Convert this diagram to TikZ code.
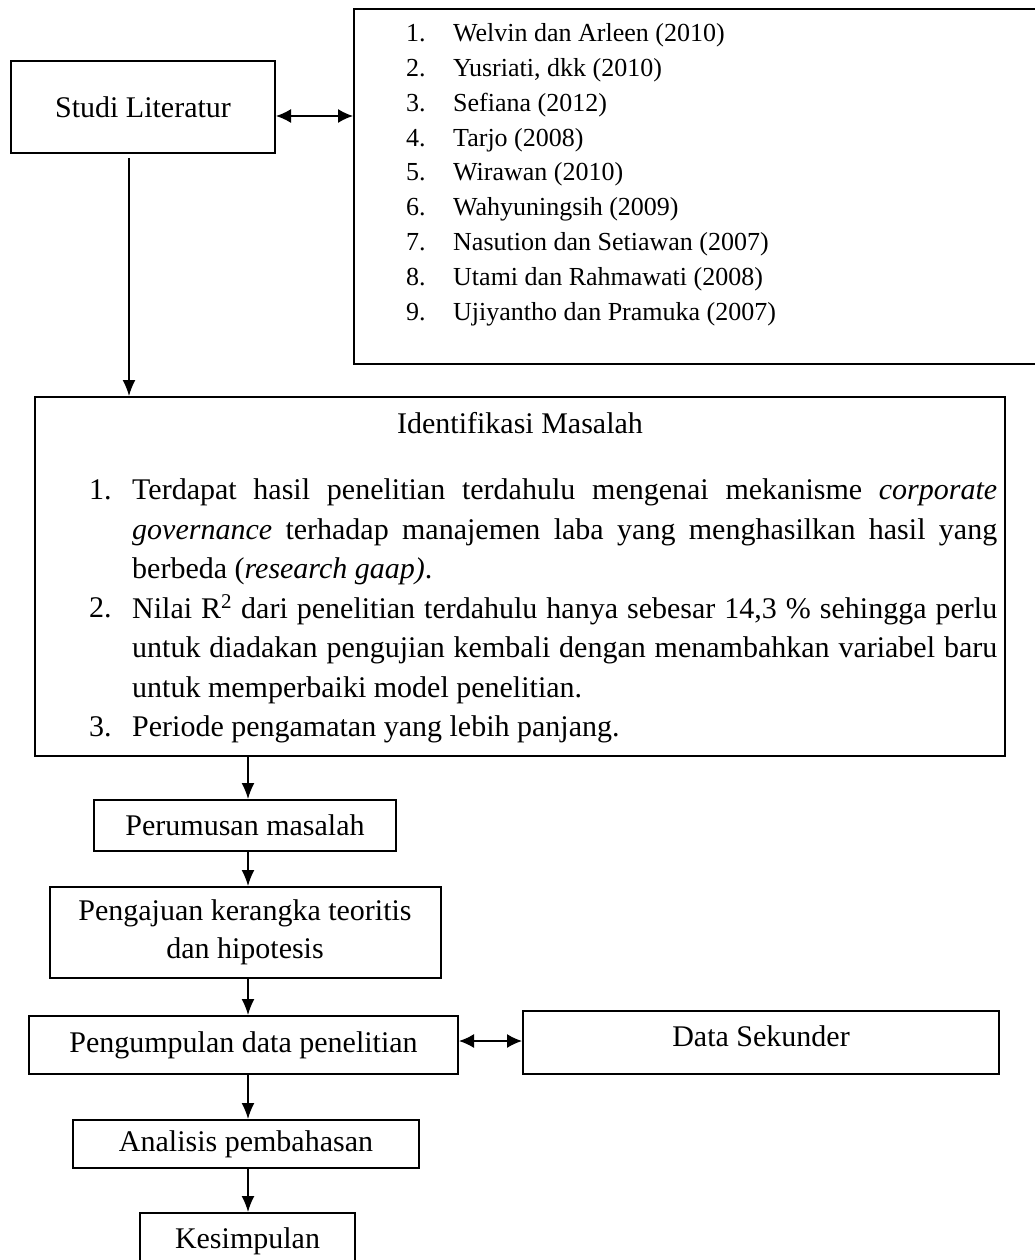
\documentclass[tikz,border=0pt]{standalone}
\usepackage{fontspec}
\setmainfont{Liberation Serif}
\usetikzlibrary{arrows.meta}

\newcommand{\hurufbesar}{\fontsize{30}{39.5}\selectfont}
\newcommand{\hurufkecil}{\fontsize{26}{34.75}\selectfont}

\tikzset{
  kotak/.style={draw, line width=2pt, inner sep=0pt, align=center},
  panah/.style={-{Latex[length=16pt,width=13pt]}, line width=1.5pt},
  panahdua/.style={{Latex[length=15pt,width=14pt]}-{Latex[length=15pt,width=14pt]}, line width=1.5pt},
  isi/.style={anchor=north west, inner sep=0pt, text width=865pt, align=justify},
}

\begin{document}
\begin{tikzpicture}[x=1pt,y=-1pt,every node/.style={font=\hurufbesar}]
    \useasboundingbox (0,0) rectangle (1035,1260);
    % Studi literatur dan daftar rujukan
    \node[kotak, minimum width=264pt, minimum height=92pt] (studi) at (143,107) {Studi Literatur};
    \node[kotak, minimum width=691pt, minimum height=355pt] (daftar) at (699.5,186.5) {};
    \foreach \nama [count=\i] in {{Welvin dan Arleen (2010)}, {Yusriati, dkk (2010)}, {Sefiana (2012)},
        {Tarjo (2008)}, {Wirawan (2010)}, {Wahyuningsih (2009)}, {Nasution dan Setiawan (2007)},
        {Utami dan Rahmawati (2008)}, {Ujiyantho dan Pramuka (2007)}} {
        \node[anchor=base west, inner sep=0pt, font=\hurufkecil] (no\i) at (406,{42+34.75*(\i-1)}) {\i.};
        \node[anchor=base west, inner sep=0pt, font=\hurufkecil] (rujukan\i) at (453,{42+34.75*(\i-1)}) {\nama};
    }
    % Identifikasi masalah
    \node[kotak, minimum width=970pt, minimum height=359pt] (identifikasi) at (520,576.5) {};
    \node[anchor=base, inner sep=0pt] (judul) at (520,433) {Identifikasi Masalah};
    \node[anchor=base west, inner sep=0pt] (nomor1) at (89,499) {1.};
    \node[isi] (masalah1) at (132,478.5) {Terdapat hasil penelitian terdahulu mengenai mekanisme \textit{corporate}\linebreak
        \textit{governance} terhadap manajemen laba yang menghasilkan hasil yang\linebreak
        berbeda (\textit{research gaap)}.};
    \node[anchor=base west, inner sep=0pt] (nomor2) at (89,617.5) {2.};
    \node[isi] (masalah2) at (132,597) {Nilai \smash{R\textsuperscript{2}} dari penelitian terdahulu hanya sebesar 14,3 \% sehingga perlu\linebreak
        untuk diadakan pengujian kembali dengan menambahkan variabel baru\linebreak
        untuk memperbaiki model penelitian.};
    \node[anchor=base west, inner sep=0pt] (nomor3) at (89,736) {3.};
    \node[isi] (masalah3) at (132,715.5) {Periode pengamatan yang lebih panjang.};
    % Alur penelitian
    \node[kotak, minimum width=302pt, minimum height=51pt] (perumusan) at (245,825.5) {Perumusan masalah};
    \node[kotak, minimum width=391pt, minimum height=91pt, font=\fontsize{30}{38}\selectfont] (pengajuan) at (245,932.5) {Pengajuan kerangka teoritis\\dan hipotesis};
    \node[kotak, minimum width=429pt, minimum height=58pt] (pengumpulan) at (243.5,1045) {Pengumpulan data penelitian};
    \node[kotak, minimum width=476pt, minimum height=63pt, text depth=12pt] (sekunder) at (761,1042.5) {Data Sekunder};
    \node[kotak, minimum width=346pt, minimum height=48pt] (analisis) at (246,1144) {Analisis pembahasan};
    \node[kotak, minimum width=215pt, minimum height=56pt] (kesimpulan) at (247.5,1241) {Kesimpulan};
    % Panah
    \coordinate (poros) at (248,0);
    \draw[panahdua] ([yshift=-9pt]studi.east) -- ([yshift=-9pt]studi.east -| daftar.west);
    \draw[panah, shorten <=4pt] ([xshift=-14pt]studi.south) -- ([xshift=-14pt]studi.south |- identifikasi.north);
    \draw[panah] (poros |- identifikasi.south) -- (poros |- perumusan.north);
    \draw[panah] (poros |- perumusan.south) -- (poros |- pengajuan.north);
    \draw[panah] (poros |- pengajuan.south) -- (poros |- pengumpulan.north);
    \draw[panah] (poros |- pengumpulan.south) -- (poros |- analisis.north);
    \draw[panah] (poros |- analisis.south) -- (poros |- kesimpulan.north);
    \draw[panahdua] ([yshift=4pt]pengumpulan.east) -- ([yshift=4pt]pengumpulan.east -| sekunder.west);
\end{tikzpicture}
\end{document}
